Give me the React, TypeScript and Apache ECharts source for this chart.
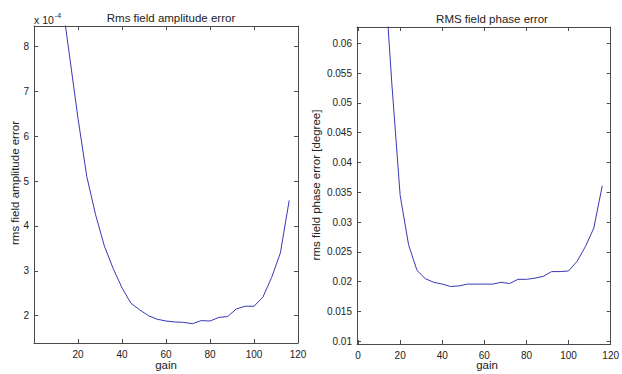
import React, { useEffect, useRef } from "react";
import * as echarts from "echarts";

// gain values (x)
const gain = [12, 16, 20, 24, 28, 32, 36, 40, 44, 48, 52, 56, 60, 64, 68, 72, 76, 80, 84, 88, 92, 96, 100, 104, 108, 112, 116];
// RMS field amplitude error, in units of 1e-4
const amplitudeErrorE4 = [9.3, 7.85, 6.4, 5.1, 4.25, 3.55, 3.05, 2.62, 2.28, 2.13, 2.0, 1.92, 1.88, 1.86, 1.85, 1.82, 1.89, 1.88, 1.96, 1.98, 2.15, 2.21, 2.21, 2.41, 2.85, 3.4, 4.57];
// RMS field phase error [degree]
const phaseError = [0.075, 0.0535, 0.0345, 0.0262, 0.0219, 0.0205, 0.0199, 0.0196, 0.0192, 0.0193, 0.0196, 0.0196, 0.0196, 0.0196, 0.0199, 0.0197, 0.0204, 0.0204, 0.0206, 0.0209, 0.0217, 0.0217, 0.0218, 0.0234, 0.0259, 0.029, 0.0361];

const leftXTicks = [20, 40, 60, 80, 100, 120];
const rightXTicks = [0, 20, 40, 60, 80, 100, 120];
const leftYTicks = [2, 3, 4, 5, 6, 7, 8];
const rightYTicks = [0.01, 0.015, 0.02, 0.025, 0.03, 0.035, 0.04, 0.045, 0.05, 0.055, 0.06];

const FONT = "Liberation Sans, Arial, sans-serif";
const AX = "#4a4a4a";
const TXT = "#222";
const LABEL_SIZE = 11.5;

function axisPair(kind: "x" | "y", gridIndex: number, min: number, max: number, ticks: number[]) {
  const main: any = {
    type: "value",
    gridIndex,
    min,
    max,
    position: kind === "x" ? "bottom" : "left",
    axisLine: { show: true, onZero: false, lineStyle: { color: AX, width: 1 } },
    axisTick: { show: true, inside: true, length: 4, customValues: ticks, lineStyle: { color: AX } },
    axisLabel: {
      show: true,
      customValues: ticks,
      color: TXT,
      fontFamily: FONT,
      fontSize: 10,
      margin: kind === "x" ? 6 : 5,
      formatter: (v: number) => String(v),
    },
    splitLine: { show: false },
  };
  const mirror: any = {
    type: "value",
    gridIndex,
    min,
    max,
    position: kind === "x" ? "top" : "right",
    axisLine: { show: true, onZero: false, lineStyle: { color: AX, width: 1 } },
    axisTick: { show: true, inside: true, length: 4, customValues: ticks, lineStyle: { color: AX } },
    axisLabel: { show: false },
    splitLine: { show: false },
  };
  return [main, mirror];
}

export default function App() {
  const ref = useRef<HTMLDivElement>(null);
  useEffect(() => {
    if (!ref.current) return;
    const chart = echarts.init(ref.current, undefined, { renderer: "svg" });
    const [lx, lx2] = axisPair("x", 0, 0, 120, leftXTicks);
    const [rx, rx2] = axisPair("x", 1, -0.5, 120, rightXTicks);
    const [ly, ly2] = axisPair("y", 0, 1.39, 8.46, leftYTicks);
    const [ry, ry2] = axisPair("y", 1, 0.00955, 0.06274, rightYTicks);
    const option: any = {
      animation: false,
      backgroundColor: "#fff",
      title: [
        {
          text: "Rms field amplitude error",
          left: 166,
          top: 7,
          textAlign: "center",
          textStyle: { fontFamily: FONT, fontSize: LABEL_SIZE, fontWeight: "normal", color: TXT },
        },
        {
          text: "RMS field phase error",
          left: 487,
          top: 8,
          textAlign: "center",
          textStyle: { fontFamily: FONT, fontSize: LABEL_SIZE, fontWeight: "normal", color: TXT },
        },
      ],
      grid: [
        { left: 34, top: 26, width: 264, height: 317, containLabel: false },
        { left: 357, top: 27, width: 261, height: 317, containLabel: false },
      ],
      xAxis: [lx, lx2, rx, rx2],
      yAxis: [ly, ly2, ry, ry2],
      series: [
        {
          type: "line",
          xAxisIndex: 0,
          yAxisIndex: 0,
          data: gain.map((g, i) => [g, amplitudeErrorE4[i]]),
          showSymbol: false,
          clip: true,
          lineStyle: { color: "#3838b4", width: 1 },
        },
        {
          type: "line",
          xAxisIndex: 2,
          yAxisIndex: 2,
          data: gain.map((g, i) => [g, phaseError[i]]),
          showSymbol: false,
          clip: true,
          lineStyle: { color: "#3838b4", width: 1 },
        },
      ],
      graphic: [
        {
          type: "text",
          x: 34,
          y: 12,
          style: {
            text: "{a|x 10}{b|-4}",
            rich: {
              a: { fontFamily: FONT, fontSize: 10.5, fill: TXT, verticalAlign: "bottom" },
              b: { fontFamily: FONT, fontSize: 7, fill: TXT, verticalAlign: "top", padding: [0, 0, 6, 1] },
            },
          },
        },
        {
          type: "text",
          x: 15,
          y: 183,
          rotation: Math.PI / 2,
          style: {
            text: "rms field amplitude error",
            fontFamily: FONT,
            fontSize: LABEL_SIZE,
            fill: TXT,
            align: "center",
            verticalAlign: "middle",
          },
        },
        {
          type: "text",
          x: 316,
          y: 185,
          rotation: Math.PI / 2,
          style: {
            text: "rms field phase error [degree]",
            fontFamily: FONT,
            fontSize: LABEL_SIZE,
            fill: TXT,
            align: "center",
            verticalAlign: "middle",
          },
        },
        {
          type: "text",
          x: 166,
          y: 365,
          style: { text: "gain", fontFamily: FONT, fontSize: LABEL_SIZE, fill: TXT, align: "center", verticalAlign: "middle" },
        },
        {
          type: "text",
          x: 487,
          y: 365,
          style: { text: "gain", fontFamily: FONT, fontSize: LABEL_SIZE, fill: TXT, align: "center", verticalAlign: "middle" },
        },
      ],
    };
    chart.setOption(option);
    return () => chart.dispose();
  }, []);
  return (
    <div
      ref={ref}
      style={{ position: "fixed", left: 0, top: 0, width: 622, height: 374, background: "#fff" }}
    />
  );
}
